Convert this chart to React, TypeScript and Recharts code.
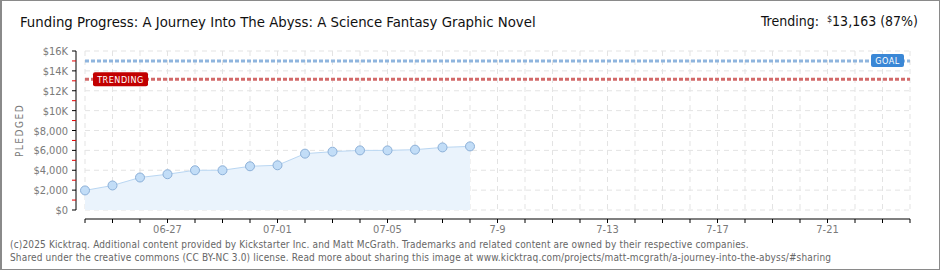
import React from 'react';
import {
  ComposedChart,
  Area,
  XAxis,
  YAxis,
  CartesianGrid,
  ReferenceLine,
} from 'recharts';

// funding data, one point per day starting 06-24
const dates = ['06-24', '06-25', '06-26', '06-27', '06-28', '06-29', '06-30', '07-01', '07-02', '07-03', '07-04', '07-05', '07-06', '07-07', '07-08'];
const pledged = [1970, 2470, 3270, 3600, 4000, 4000, 4400, 4500, 5670, 5870, 6000, 6000, 6070, 6300, 6400];

const goal = 15000;
const trending = 13163;

const yTicks = [0, 1000, 2000, 3000, 4000, 5000, 6000, 7000, 8000, 9000, 10000, 11000, 12000, 13000, 14000, 15000, 16000];
const yLabels = ['$0', '', '$2,000', '', '$4,000', '', '$6,000', '', '$8,000', '', '$10K', '', '$12K', '', '$14K', '', '$16K'];
const gridY = [0, 2000, 4000, 6000, 8000, 10000, 12000, 14000, 16000];

const xDays = Array.from({ length: 31 }, (_, i) => i);
const labelDays = [3, 7, 11, 15, 19, 23, 27];
const labelTexts = ['06-27', '07-01', '07-05', '7-9', '7-13', '7-17', '7-21'];

const data = dates.map((d, i) => ({ day: i, date: d, pledged: pledged[i] }));

const PIXEL_FONT = '"DejaVu Sans Condensed", "DejaVu Sans", sans-serif';

function YTick(props: any) {
  const { x, y, payload, index } = props;
  const major = payload.value % 2000 === 0;
  return (
    <g>
      <line x1={x - 4} x2={x} y1={y} y2={y} stroke={major ? '#000' : '#e00000'} strokeWidth={1} />
      {major && (
        <text x={x - 8} y={y} dy={4} textAnchor="end" fontSize={11} fill="#7a7a7a" fontFamily={PIXEL_FONT}>
          {yLabels[index]}
        </text>
      )}
    </g>
  );
}

function XTick(props: any) {
  const { x, y, payload } = props;
  const li = labelDays.indexOf(payload.value);
  return (
    <g>
      <line x1={x} x2={x} y1={y} y2={y + 4} stroke="#000" strokeWidth={1} />
      {li >= 0 && (
        <text x={x} y={y + 14} textAnchor="middle" fontSize={11} fill="#7a7a7a" fontFamily={PIXEL_FONT}>
          {labelTexts[li]}
        </text>
      )}
    </g>
  );
}

function GoalLabel(props: any) {
  const { viewBox } = props;
  const bx = viewBox.x + viewBox.width - 39;
  const by = viewBox.y - 7;
  return (
    <g>
      <rect x={bx} y={by} width={33} height={13} rx={2} fill="#3a87d6" />
      <text x={bx + 16.5} y={by + 10} textAnchor="middle" fontSize={9} fill="#fff" fontFamily={PIXEL_FONT} letterSpacing={0.5}>
        GOAL
      </text>
    </g>
  );
}

function TrendingLabel(props: any) {
  const { viewBox } = props;
  const bx = viewBox.x + 8;
  const by = viewBox.y - 7;
  return (
    <g>
      <rect x={bx} y={by} width={55} height={14} rx={2} fill="#c20000" />
      <text x={bx + 27.5} y={by + 10.5} textAnchor="middle" fontSize={9} fill="#fff" fontFamily={PIXEL_FONT} letterSpacing={0.5}>
        TRENDING
      </text>
    </g>
  );
}

export default function App() {
  return (
    <div
      style={{
        position: 'absolute',
        left: 0,
        top: 0,
        width: 940,
        height: 270,
        boxSizing: 'border-box',
        border: '1px solid #8a8a8a',
        borderLeftWidth: 2,
        background: '#fff',
        overflow: 'hidden',
      }}
    >
      <div
        style={{
          position: 'absolute',
          left: 18,
          top: 12,
          fontFamily: PIXEL_FONT,
          fontSize: 14.8,
          color: '#111',
          whiteSpace: 'nowrap',
        }}
      >
        Funding Progress: A Journey Into The Abyss: A Science Fantasy Graphic Novel
      </div>
      <div
        style={{
          position: 'absolute',
          right: 21,
          top: 12,
          fontFamily: PIXEL_FONT,
          fontSize: 14,
          color: '#111',
          whiteSpace: 'nowrap',
        }}
      >
        Trending:&nbsp; <span style={{ fontSize: 9, verticalAlign: 'top', position: 'relative', top: 1 }}>$</span>13,163 (87%)
      </div>

      <div style={{ position: 'absolute', left: -2, top: -1 }}>
        <ComposedChart width={940} height={270} data={data} margin={{ top: 51, right: 30, bottom: 31, left: 0 }}>
          <CartesianGrid
            xAxisId="main"
            yAxisId="main"
            stroke="#e3e3e3"
            strokeDasharray="5 4"
            horizontalValues={gridY}
            verticalValues={xDays}
          />
          <XAxis xAxisId="gap" type="number" dataKey="day" domain={[0, 30]} height={9} tick={false} axisLine={false} tickLine={false} />
          <XAxis
            xAxisId="main"
            type="number"
            dataKey="day"
            domain={[0, 30]}
            ticks={xDays}
            interval={0}
            height={20}
            tickSize={0}
            tickMargin={0}
            tickLine={false}
            axisLine={{ stroke: '#000' }}
            tick={<XTick />}
          />
          <YAxis yAxisId="gap" type="number" domain={[0, 16000]} width={9} tick={false} axisLine={false} tickLine={false} />
          <YAxis
            yAxisId="main"
            type="number"
            domain={[0, 16000]}
            ticks={yTicks}
            interval={0}
            width={76}
            tickSize={0}
            tickMargin={0}
            tickLine={false}
            axisLine={{ stroke: '#000' }}
            tick={<YTick />}
            label={{
              value: 'PLEDGED',
              angle: -90,
              position: 'insideLeft',
              offset: 19,
              style: { fontSize: 10, fill: '#7a7a7a', fontFamily: PIXEL_FONT, letterSpacing: 1.5, textAnchor: 'middle' },
            }}
          />
          <ReferenceLine
            xAxisId="main"
            yAxisId="main"
            y={goal}
            stroke="#8fb5de"
            strokeWidth={3}
            strokeDasharray="4 2"
            label={<GoalLabel />}
          />
          <ReferenceLine
            xAxisId="main"
            yAxisId="main"
            y={trending}
            stroke="#d26a6a"
            strokeWidth={3}
            strokeDasharray="4 2"
            label={<TrendingLabel />}
          />
          <Area
            xAxisId="main"
            yAxisId="main"
            type="linear"
            dataKey="pledged"
            stroke="#b9d6f2"
            strokeWidth={1}
            fill="#eaf3fc"
            fillOpacity={1}
            dot={{ r: 4.5, fill: '#c2ddf7', stroke: '#8cb0d8', strokeWidth: 1 }}
            activeDot={false}
            isAnimationActive={false}
          />
        </ComposedChart>
      </div>

      <div
        style={{
          position: 'absolute',
          left: 8,
          top: 237,
          fontFamily: PIXEL_FONT,
          fontSize: 10,
          letterSpacing: 0.15,
          lineHeight: '13px',
          color: '#666',
          whiteSpace: 'nowrap',
        }}
      >
        (c)2025 Kicktraq. Additional content provided by Kickstarter Inc. and Matt McGrath. Trademarks and related content are owned by their respective companies.
        <br />
        Shared under the creative commons (CC BY-NC 3.0) license. Read more about sharing this image at www.kicktraq.com/projects/matt-mcgrath/a-journey-into-the-abyss/#sharing
      </div>
    </div>
  );
}
